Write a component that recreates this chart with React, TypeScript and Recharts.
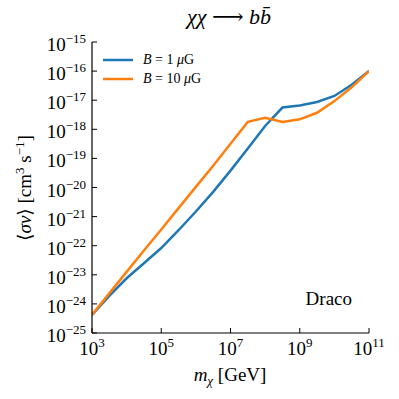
import React from 'react';
import { LineChart, Line, XAxis, YAxis, Legend } from 'recharts';

// dark matter mass (GeV)
const massGeV = [1e3, 3.16e3, 1e4, 3.16e4, 1e5, 3.16e5, 1e6, 3.16e6, 1e7, 3.16e7, 1e8, 3.16e8, 1e9, 3.16e9, 1e10, 3.16e10, 1e11];
// <sigma v> limits, cm^3 s^-1
const sigmaB1 = [4.2e-25, 1.9e-24, 7.6e-24, 2.5e-23, 8.3e-23, 3.4e-22, 1.5e-21, 7.1e-21, 3.8e-20, 2.2e-19, 1.3e-18, 5.6e-18, 6.6e-18, 8.7e-18, 1.4e-17, 3.4e-17, 1.0e-16];
const sigmaB10 = [4.2e-25, 2.3e-24, 1.26e-23, 6.8e-23, 3.6e-22, 1.95e-21, 1.05e-20, 5.6e-20, 3.2e-19, 1.8e-18, 2.5e-18, 1.8e-18, 2.2e-18, 3.7e-18, 9.3e-18, 2.8e-17, 1.0e-16];

const xTicks = [1e3, 1e5, 1e7, 1e9, 1e11];
const yTicks = [1e-25, 1e-24, 1e-23, 1e-22, 1e-21, 1e-20, 1e-19, 1e-18, 1e-17, 1e-16, 1e-15];

const series = [
    { key: 'b1', label: '1', color: '#1f77b4' },
    { key: 'b10', label: '10', color: '#ff7f0e' },
];

const rows = massGeV.map((m, i) => ({ m, b1: sigmaB1[i], b10: sigmaB10[i] }));

const FONT = '"Liberation Serif", "DejaVu Serif", serif';
const TICK = 5;

const expText = (v: number) => {
    const e = Math.round(Math.log10(v));
    return e < 0 ? '\u2212' + Math.abs(e) : String(e);
};

const BottomTick = (props: any) => {
    const { x, y, payload } = props;
    return (
        <g>
            <line x1={x} y1={y} x2={x} y2={y - TICK} stroke="#000" />
            <text x={x} y={y + 22} textAnchor="middle" fontFamily={FONT} fontSize={19} fill="#000">
                10<tspan dy={-8} fontSize={13}>{expText(payload.value)}</tspan>
            </text>
        </g>
    );
};

const TopTick = (props: any) => {
    const { x, y } = props;
    return <line x1={x} y1={y} x2={x} y2={y + TICK} stroke="#000" />;
};

const LeftTick = (props: any) => {
    const { x, y, payload } = props;
    return (
        <g>
            <line x1={x} y1={y} x2={x + TICK} y2={y} stroke="#000" />
            <text x={x - 6} y={y + 9} textAnchor="end" fontFamily={FONT} fontSize={19} fill="#000">
                10<tspan dy={-8} fontSize={13}>{expText(payload.value)}</tspan>
            </text>
        </g>
    );
};

const RightTick = (props: any) => {
    const { x, y } = props;
    return <line x1={x} y1={y} x2={x - TICK} y2={y} stroke="#000" />;
};

const LegendBox = () => (
    <div style={{ fontFamily: FONT, fontSize: 14, color: '#000' }}>
        {series.map((s) => (
            <div key={s.key} style={{ display: 'flex', alignItems: 'center', height: 19 }}>
                <svg width={30} height={4}>
                    <line x1={0} y1={2} x2={30} y2={2} stroke={s.color} strokeWidth={2.5} />
                </svg>
                <span style={{ marginLeft: 10 }}>
                    <i>B</i> = {s.label} <i>μ</i>G
                </span>
            </div>
        ))}
    </div>
);

export default function App() {
    return (
        <div style={{ position: 'absolute', left: 0, top: 0, width: 399, height: 399, background: '#fff' }}>
            <LineChart width={399} height={399} data={rows} margin={{ top: 42, right: 30, left: 0, bottom: 0 }}>
                <XAxis
                    dataKey="m"
                    type="number"
                    scale="log"
                    domain={[1e3, 1e11]}
                    ticks={xTicks}
                    allowDataOverflow
                    height={66}
                    tickSize={0}
                    tickMargin={0}
                    tickLine={false}
                    axisLine={{ stroke: '#000', strokeWidth: 1.2 }}
                    tick={<BottomTick />}
                    interval={0}
                />
                <XAxis
                    xAxisId="top"
                    orientation="top"
                    dataKey="m"
                    type="number"
                    scale="log"
                    domain={[1e3, 1e11]}
                    ticks={xTicks}
                    allowDataOverflow
                    height={0}
                    tickSize={0}
                    tickMargin={0}
                    tickLine={false}
                    axisLine={{ stroke: '#000', strokeWidth: 1.2 }}
                    tick={<TopTick />}
                    interval={0}
                />
                <YAxis
                    type="number"
                    scale="log"
                    domain={[1e-25, 1e-15]}
                    ticks={yTicks}
                    allowDataOverflow
                    width={92}
                    tickSize={0}
                    tickMargin={0}
                    tickLine={false}
                    axisLine={{ stroke: '#000', strokeWidth: 1.2 }}
                    tick={<LeftTick />}
                    interval={0}
                />
                <YAxis
                    yAxisId="right"
                    orientation="right"
                    type="number"
                    scale="log"
                    domain={[1e-25, 1e-15]}
                    ticks={yTicks}
                    allowDataOverflow
                    width={0}
                    tickSize={0}
                    tickMargin={0}
                    tickLine={false}
                    axisLine={{ stroke: '#000', strokeWidth: 1.2 }}
                    tick={<RightTick />}
                    interval={0}
                />
                {series.map((s) => (
                    <Line
                        key={s.key}
                        dataKey={s.key}
                        stroke={s.color}
                        strokeWidth={2.5}
                        dot={false}
                        isAnimationActive={false}
                    />
                ))}
                <Legend
                    layout="vertical"
                    align="center"
                    verticalAlign="middle"
                    content={<LegendBox />}
                    wrapperStyle={{ left: 103, top: 50, width: 160 }}
                />
            </LineChart>
            <svg
                width={399}
                height={399}
                style={{ position: 'absolute', left: 0, top: 0, pointerEvents: 'none' }}
                fontFamily={FONT}
                fill="#000"
            >
                <text x={229} y={24} textAnchor="middle" fontSize={22}>
                    <tspan fontStyle="italic">χχ</tspan> ⟶ <tspan fontStyle="italic">b</tspan>
                    <tspan fontStyle="italic">b̄</tspan>
                </text>
                <text x={230} y={381} textAnchor="middle" fontSize={19}>
                    <tspan fontStyle="italic">m</tspan>
                    <tspan dy={4} fontSize={13} fontStyle="italic">χ</tspan>
                    <tspan dy={-4}>  [GeV]</tspan>
                </text>
                <text x={31} y={188} textAnchor="middle" fontSize={19} transform="rotate(-90 31 188)">
                    ⟨<tspan fontStyle="italic">σv</tspan>⟩  [cm<tspan dy={-7} fontSize={13}>3</tspan>
                    <tspan dy={7}> s</tspan>
                    <tspan dy={-7} fontSize={13}>−1</tspan>
                    <tspan dy={7}>]</tspan>
                </text>
                <text x={352} y={305} textAnchor="end" fontSize={19}>
                    Draco
                </text>
            </svg>
        </div>
    );
}
